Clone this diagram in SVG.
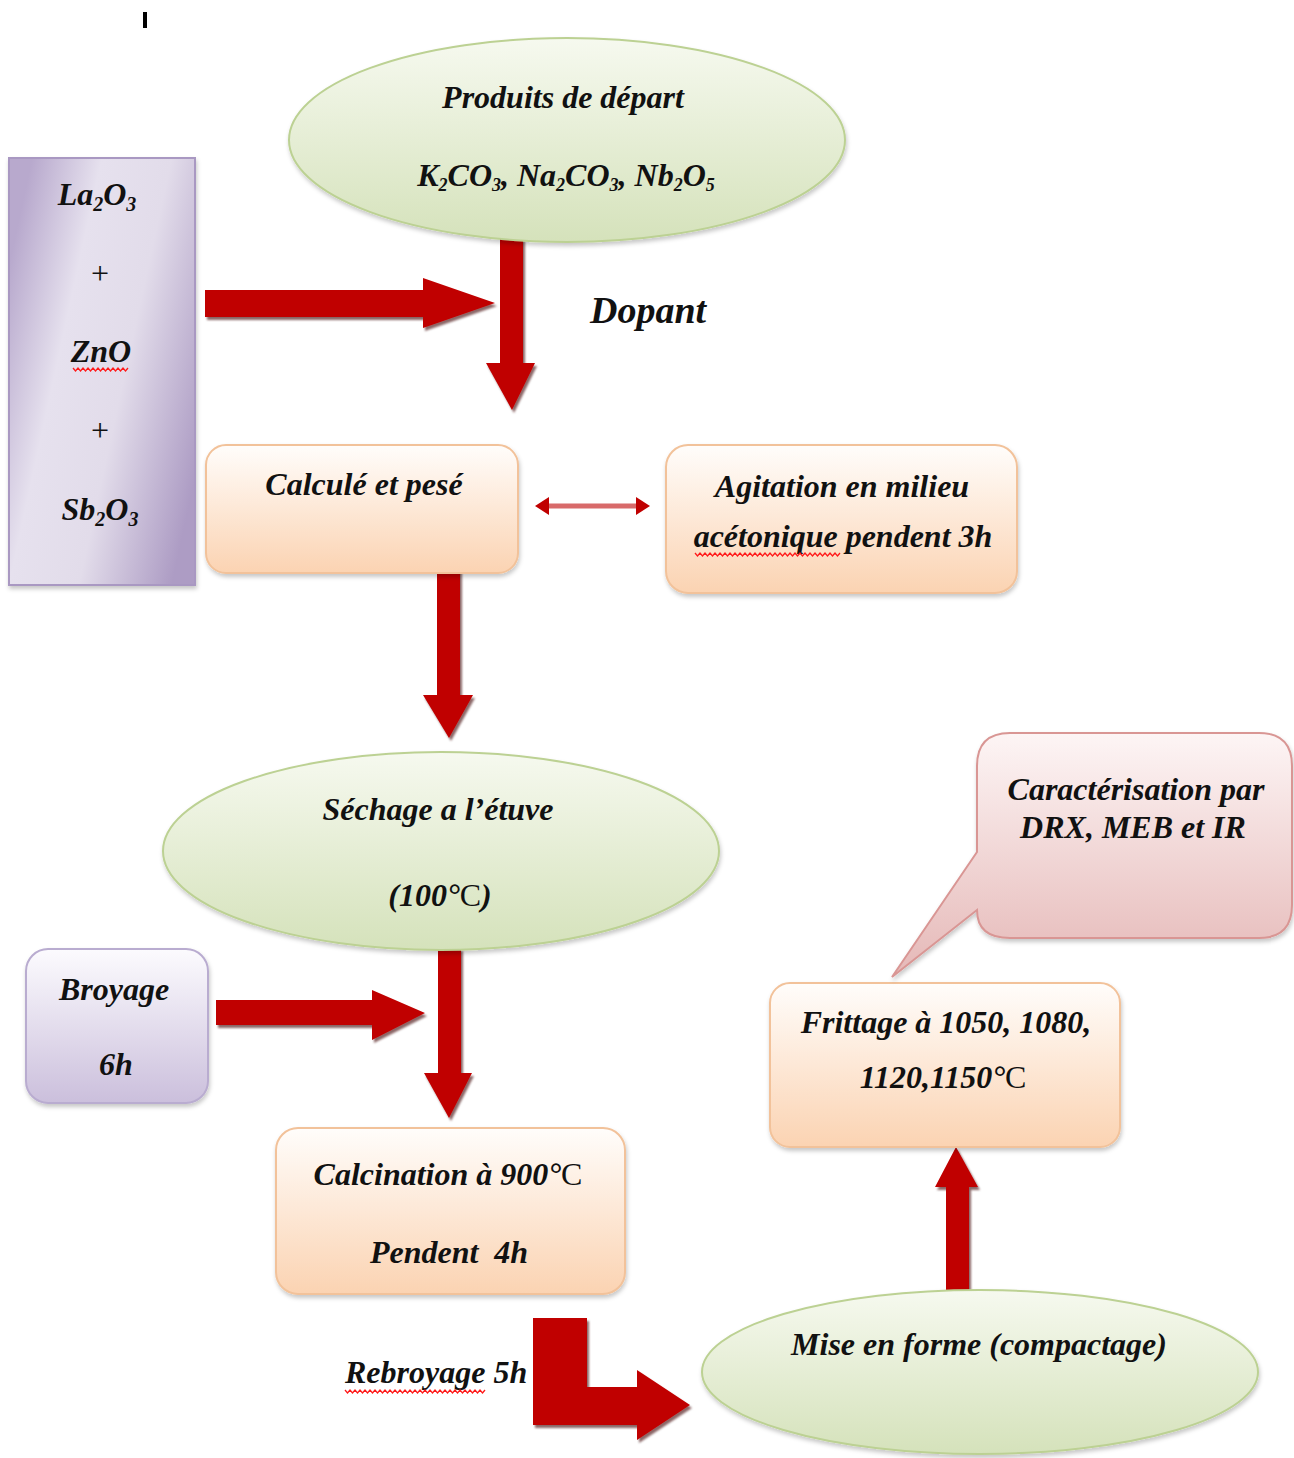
<svg xmlns="http://www.w3.org/2000/svg" width="1294" height="1458" viewBox="0 0 1294 1458">
<defs>
<style>
.t{font-family:"Liberation Serif","Times New Roman",serif;font-weight:bold;font-style:italic;font-size:32px;fill:#111;}
.up{font-style:normal;font-weight:normal;}
.ell{fill:url(#gGreen);stroke:#bcd193;stroke-width:2;filter:url(#sh);}
.box{fill:url(#gOrange);stroke:#f2c29a;stroke-width:2;filter:url(#sh);}
.arr{fill:#c00000;filter:url(#ash);}
.wavy{fill:none;stroke:#ff1a1a;stroke-width:1.3;}
</style>
<linearGradient id="gGreen" x1="0" y1="0" x2="0" y2="1">
<stop offset="0" stop-color="#f6f9ef"/>
<stop offset="1" stop-color="#d5e2bb"/>
</linearGradient>
<linearGradient id="gOrange" x1="0" y1="0" x2="0" y2="1">
<stop offset="0" stop-color="#fffdfb"/>
<stop offset="1" stop-color="#fbd3b2"/>
</linearGradient>
<linearGradient id="gPurpleV" x1="0" y1="0" x2="0" y2="1">
<stop offset="0" stop-color="#fcfbfe"/>
<stop offset="1" stop-color="#cbbfdc"/>
</linearGradient>
<linearGradient id="gPurpleH" x1="0" y1="0.25" x2="1" y2="0.75">
<stop offset="0" stop-color="#b8a9cd"/>
<stop offset="0.3" stop-color="#e6e1ee"/>
<stop offset="0.6" stop-color="#e2dcea"/>
<stop offset="1" stop-color="#ad9cc4"/>
</linearGradient>
<linearGradient id="gPink" x1="0" y1="0" x2="0" y2="1">
<stop offset="0" stop-color="#fdf5f5"/>
<stop offset="1" stop-color="#e5b8b7"/>
</linearGradient>
<filter id="sh" x="-10%" y="-10%" width="120%" height="130%">
<feDropShadow dx="1" dy="3" stdDeviation="2" flood-color="#000" flood-opacity="0.22"/>
</filter>
<filter id="ash" x="-20%" y="-20%" width="140%" height="140%">
<feDropShadow dx="2" dy="3" stdDeviation="1" flood-color="#3a0000" flood-opacity="0.6"/>
</filter>
</defs>
<rect width="1294" height="1458" fill="#ffffff"/>
<rect x="143" y="12" width="4" height="16" fill="#000"/>

<g id="connectors">
<polygon class="arr" points="205,290 423,290 423,278 495,303 423,328 423,317 205,317"/>
<polygon class="arr" points="500,238 523,238 523,363 535,363 512,410 486,363 500,363"/>
<polygon class="arr" points="437,568 460,568 460,695 473,695 449,738 423,695 437,695"/>
<polygon class="arr" points="438,948 461,948 461,1073 472,1073 449,1118 424,1073 438,1073"/>
<polygon class="arr" points="216,1000 372,1000 372,990 425,1013 372,1040 372,1025 216,1025"/>
<polygon class="arr" points="533,1318 587,1318 587,1387 637,1387 637,1370 690,1405 637,1440 637,1425 533,1425"/>
<polygon class="arr" points="946,1297 969,1297 969,1187 978,1187 956,1147 935,1187 946,1187"/>
<g id="double-arrow">
<line x1="546" y1="506" x2="639" y2="506" stroke="#d86a6a" stroke-width="5"/>
<polygon points="535,506 549,497 549,515" fill="#c00000"/>
<polygon points="650,506 636,497 636,515" fill="#c00000"/>
</g>
</g>

<g id="node-produits">
<ellipse class="ell" cx="567" cy="140" rx="278" ry="102"/>
<text class="t" x="563" y="108" text-anchor="middle">Produits de départ</text>
<text class="t" x="566" y="186" text-anchor="middle">K<tspan font-size="18" dy="5">2</tspan><tspan dy="-5">CO</tspan><tspan font-size="18" dy="5">3</tspan><tspan dy="-5">, Na</tspan><tspan font-size="18" dy="5">2</tspan><tspan dy="-5">CO</tspan><tspan font-size="18" dy="5">3</tspan><tspan dy="-5">, Nb</tspan><tspan font-size="18" dy="5">2</tspan><tspan dy="-5">O</tspan><tspan font-size="18" dy="5">5</tspan></text>
</g>

<g id="node-dopants">
<rect x="9" y="158" width="186" height="427" fill="url(#gPurpleH)" stroke="#a998c2" stroke-width="2" filter="url(#sh)"/>
<text class="t" x="97" y="205" text-anchor="middle">La<tspan font-size="20" dy="6">2</tspan><tspan dy="-6">O</tspan><tspan font-size="20" dy="6">3</tspan></text>
<text class="t up" x="100" y="284" text-anchor="middle">+</text>
<text class="t" x="101" y="362" text-anchor="middle">ZnO</text>
<path class="wavy" d="M73,368 l2.5,3 2.5,-3 2.5,3 2.5,-3 2.5,3 2.5,-3 2.5,3 2.5,-3 2.5,3 2.5,-3 2.5,3 2.5,-3 2.5,3 2.5,-3 2.5,3 2.5,-3 2.5,3 2.5,-3 2.5,3 2.5,-3 2.5,3 2.5,-3"/>
<text class="t up" x="100" y="441" text-anchor="middle">+</text>
<text class="t" x="100" y="520" text-anchor="middle">Sb<tspan font-size="20" dy="6">2</tspan><tspan dy="-6">O</tspan><tspan font-size="20" dy="6">3</tspan></text>
</g>

<g id="label-dopant">
<text class="t" x="590" y="323" style="font-size:38px">Dopant</text>
</g>

<g id="node-calcule">
<rect class="box" x="206" y="445" width="312" height="128" rx="20"/>
<text class="t" x="364" y="495" text-anchor="middle">Calculé et pesé</text>
</g>

<g id="node-agitation">
<rect class="box" x="666" y="445" width="351" height="148" rx="22"/>
<text class="t" x="842" y="497" text-anchor="middle">Agitation en milieu</text>
<text class="t" x="843" y="547" text-anchor="middle">acétonique pendent 3h</text>
<path class="wavy" d="M695,553 l2.5,3 2.5,-3 2.5,3 2.5,-3 2.5,3 2.5,-3 2.5,3 2.5,-3 2.5,3 2.5,-3 2.5,3 2.5,-3 2.5,3 2.5,-3 2.5,3 2.5,-3 2.5,3 2.5,-3 2.5,3 2.5,-3 2.5,3 2.5,-3 2.5,3 2.5,-3 2.5,3 2.5,-3 2.5,3 2.5,-3 2.5,3 2.5,-3 2.5,3 2.5,-3 2.5,3 2.5,-3 2.5,3 2.5,-3 2.5,3 2.5,-3 2.5,3 2.5,-3 2.5,3 2.5,-3 2.5,3 2.5,-3 2.5,3 2.5,-3 2.5,3 2.5,-3 2.5,3 2.5,-3 2.5,3 2.5,-3 2.5,3 2.5,-3 2.5,3 2.5,-3 2.5,3 2.5,-3"/>
</g>

<g id="node-sechage">
<ellipse class="ell" cx="441" cy="851" rx="278" ry="99"/>
<text class="t" x="438" y="820" text-anchor="middle">Séchage a l’étuve</text>
<text class="t" x="440" y="906" text-anchor="middle">(100°<tspan class="up">C</tspan>)</text>
</g>

<g id="node-broyage">
<rect x="26" y="949" width="182" height="154" rx="22" fill="url(#gPurpleV)" stroke="#b9acd0" stroke-width="2" filter="url(#sh)"/>
<text class="t" x="114" y="1000" text-anchor="middle">Broyage</text>
<text class="t" x="116" y="1075" text-anchor="middle">6h</text>
</g>

<g id="node-calcination">
<rect class="box" x="276" y="1128" width="349" height="166" rx="22"/>
<text class="t" x="448" y="1185" text-anchor="middle">Calcination à 900°<tspan class="up">C</tspan></text>
<text class="t" x="449" y="1263" text-anchor="middle">Pendent&#160; 4h</text>
</g>

<g id="label-rebroyage">
<text class="t" x="345" y="1383">Rebroyage 5h</text>
<path class="wavy" d="M345,1390 l2.5,3 2.5,-3 2.5,3 2.5,-3 2.5,3 2.5,-3 2.5,3 2.5,-3 2.5,3 2.5,-3 2.5,3 2.5,-3 2.5,3 2.5,-3 2.5,3 2.5,-3 2.5,3 2.5,-3 2.5,3 2.5,-3 2.5,3 2.5,-3 2.5,3 2.5,-3 2.5,3 2.5,-3 2.5,3 2.5,-3 2.5,3 2.5,-3 2.5,3 2.5,-3 2.5,3 2.5,-3 2.5,3 2.5,-3 2.5,3 2.5,-3 2.5,3 2.5,-3 2.5,3 2.5,-3 2.5,3 2.5,-3 2.5,3 2.5,-3 2.5,3 2.5,-3 2.5,3 2.5,-3 2.5,3 2.5,-3 2.5,3 2.5,-3 2.5,3 2.5,-3"/>
</g>

<g id="node-mise-en-forme">
<ellipse class="ell" cx="980" cy="1372" rx="278" ry="82"/>
<text class="t" x="979" y="1355" text-anchor="middle">Mise en forme (compactage)</text>
</g>

<g id="node-frittage">
<rect class="box" x="770" y="983" width="350" height="164" rx="20"/>
<text class="t" x="946" y="1033" text-anchor="middle">Frittage à 1050, 1080,</text>
<text class="t" x="943" y="1088" text-anchor="middle">1120,1150°<tspan class="up">C</tspan></text>
</g>

<g id="node-caracterisation">
<path d="M1010,733 H1259 Q1292,733 1292,766 V905 Q1292,938 1259,938 H1010 Q977,938 977,910 L892,977 L977,852 V766 Q977,733 1010,733 Z" fill="url(#gPink)" stroke="#d99694" stroke-width="2" filter="url(#sh)"/>
<text class="t" x="1136" y="800" text-anchor="middle">Caractérisation par</text>
<text class="t" x="1133" y="838" text-anchor="middle">DRX, MEB et IR</text>
</g>
</svg>
